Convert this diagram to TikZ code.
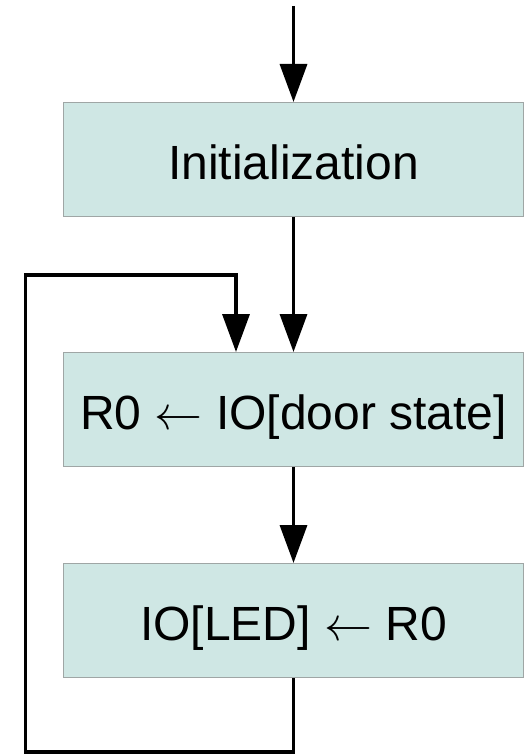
\RequirePackage{fix-cm}
\documentclass[tikz,border=0pt]{standalone}
\usepackage{fontspec}
\setmainfont{Liberation Sans}
\usetikzlibrary{arrows.meta}
\definecolor{boxfill}{HTML}{CFE7E4}
\definecolor{boxline}{HTML}{9FA6A5}
\begin{document}
\begin{tikzpicture}[x=1pt,y=1pt,
  stepbox/.style={draw=boxline, line width=1pt, fill=boxfill, rectangle,
    minimum width=460pt, minimum height=114pt, inner sep=0pt,
    text height=39pt, text depth=0pt,
    font=\fontsize{48}{54}\selectfont},
  conn/.style={line width=3.5pt, draw=black},
  arr/.style={conn, -{Triangle[length=38pt,width=27pt]}}]
\useasboundingbox (0,0) rectangle (525,-754);
\node[stepbox] (init)  at (293.5,-159.5) {Initialization};
\node[stepbox] (read)  at (293.5,-409.5) {R0 $\leftarrow$ IO[door state]};
\node[stepbox] (write) at (293.5,-620.5) {IO[LED] $\leftarrow$ R0};
\coordinate (start) at (293.5,-6);
\coordinate (lbot) at (25.5,-752);
\coordinate (ltop) at (236,-275);
\draw[arr] (start) -- (init.north);
\draw[arr] (init.south) -- (read.north);
\draw[arr] (read.south) -- (write.north);
\draw[arr] (write.south) |- (lbot) |- (ltop) -- (ltop |- read.north);
\end{tikzpicture}
\end{document}
